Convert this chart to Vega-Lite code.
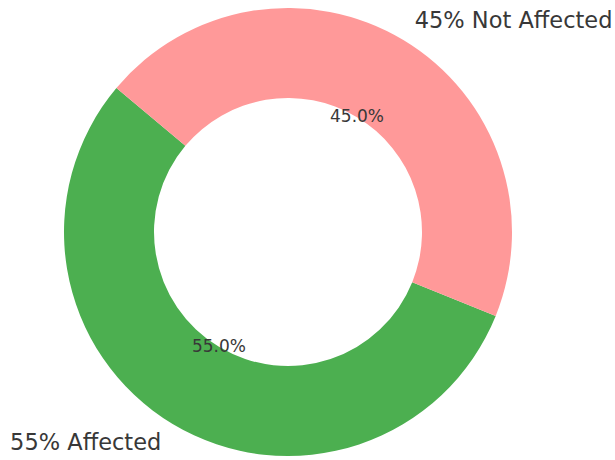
{
  "$schema": "https://vega.github.io/schema/vega-lite/v6.json",
  "width": 576,
  "height": 460,
  "autosize": {"type": "none"},
  "padding": {"left": 0, "top": 2, "right": 39, "bottom": 0},
  "background": "white",
  "view": {"stroke": null},
  "data": {
    "values": [
      {"label": "Affected", "value": 55, "pct": "55.0%", "outer": "55% Affected"},
      {"label": "Not Affected", "value": 45, "pct": "45.0%", "outer": "45% Not Affected"}
    ]
  },
  "encoding": {
    "theta": {"field": "value", "type": "quantitative", "stack": true, "scale": {"range": [1.95477, 8.23795]}},
    "order": {"field": "label", "sort": "ascending"}
  },
  "layer": [
    {
      "mark": {"type": "arc", "outerRadius": 224, "innerRadius": 134},
      "encoding": {
        "color": {
          "field": "label",
          "type": "nominal",
          "scale": {"domain": ["Affected", "Not Affected"], "range": ["#4caf50", "#ff9999"]},
          "legend": null
        }
      }
    },
    {
      "mark": {"type": "text", "radius": 134, "fontSize": 17, "font": "DejaVu Sans", "fill": "#383838"},
      "encoding": {"text": {"field": "pct"}}
    },
    {
      "mark": {"type": "text", "radius": 246, "fontSize": 22.5, "font": "DejaVu Sans", "fill": "#383838", "align": "right"},
      "encoding": {"text": {"condition": {"test": "datum.label === 'Affected'", "field": "outer"}, "value": ""}}
    },
    {
      "mark": {"type": "text", "radius": 246, "fontSize": 22.5, "font": "DejaVu Sans", "fill": "#383838", "align": "left"},
      "encoding": {"text": {"condition": {"test": "datum.label === 'Not Affected'", "field": "outer"}, "value": ""}}
    }
  ]
}
